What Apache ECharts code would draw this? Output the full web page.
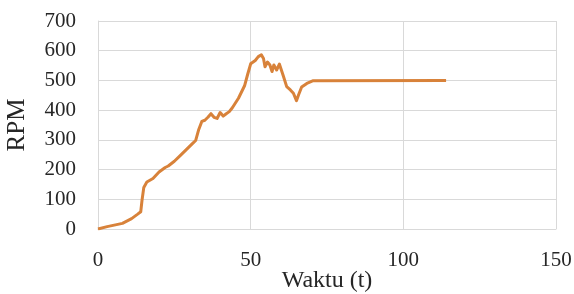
<!DOCTYPE html>
<html>
<head>
<meta charset="utf-8">
<script src="https://cdn.jsdelivr.net/npm/echarts@6/dist/echarts.min.js"></script>
<style>html,body{margin:0;padding:0;background:#fff;}#c{width:574px;height:294px;}</style>
</head>
<body>
<div id="c"></div>
<script>
var timeValues = [0, 3, 8, 11, 13, 14, 14.4, 15, 16, 18, 20, 22, 23, 25, 27, 29, 31, 32, 33, 34, 35, 36, 37, 38, 39, 40, 41, 42, 43, 44, 46, 48, 49, 50, 51.5, 52.5, 53.5, 54.2, 54.7, 55.5, 56.3, 57, 57.6, 58.5, 59.4, 60.7, 61.8, 63, 64, 65, 65.7, 66.7, 68.4, 70.5, 71, 114];
var rpmValues = [0, 8, 19, 35, 50, 58, 95, 140, 158, 170, 192, 207, 212, 228, 248, 268, 288, 298, 335, 362, 366, 376, 388, 376, 372, 392, 380, 388, 395, 408, 440, 482, 520, 556, 567, 580, 586, 574, 546, 562, 552, 530, 552, 535, 555, 515, 479, 468, 457, 432, 452, 478, 490, 499, 500, 500];
var xTicks = [0, 50, 100, 150];
var yTicks = [0, 100, 200, 300, 400, 500, 600, 700];

var points = timeValues.map(function (t, i) { return [t, rpmValues[i]]; });
var font = '"Liberation Serif", "Times New Roman", serif';
var chart = echarts.init(document.getElementById('c'), null, {renderer: 'canvas'});
chart.setOption({
  animation: false,
  backgroundColor: '#ffffff',
  grid: {left: 98, right: 18, top: 21, bottom: 65, containLabel: false, outerBoundsMode: 'none'},
  xAxis: {
    type: 'value', min: xTicks[0], max: xTicks[xTicks.length - 1], interval: 50,
    name: 'Waktu (t)', nameLocation: 'middle', nameGap: 40, nameMoveOverlap: false,
    nameTextStyle: {fontFamily: font, fontSize: 24, color: '#262626'},
    axisLine: {show: true, lineStyle: {color: '#D9D9D9', width: 1}},
    axisTick: {show: false},
    axisLabel: {fontFamily: font, fontSize: 21, color: '#262626', margin: 21},
    splitLine: {show: true, lineStyle: {color: '#D9D9D9', width: 1}}
  },
  yAxis: {
    type: 'value', min: yTicks[0], max: yTicks[yTicks.length - 1], interval: 100,
    name: 'RPM', nameLocation: 'middle', nameGap: 68, nameMoveOverlap: false,
    nameTextStyle: {fontFamily: font, fontSize: 25, color: '#262626'},
    axisLine: {show: true, lineStyle: {color: '#D9D9D9', width: 1}},
    axisTick: {show: false},
    axisLabel: {fontFamily: font, fontSize: 21, color: '#262626', margin: 22},
    splitLine: {show: true, lineStyle: {color: '#D9D9D9', width: 1}}
  },
  series: [{
    type: 'line', data: points, showSymbol: false, symbol: 'none',
    lineStyle: {color: '#D8823A', width: 3, join: 'round'}
  }]
});
</script>
</body>
</html>
